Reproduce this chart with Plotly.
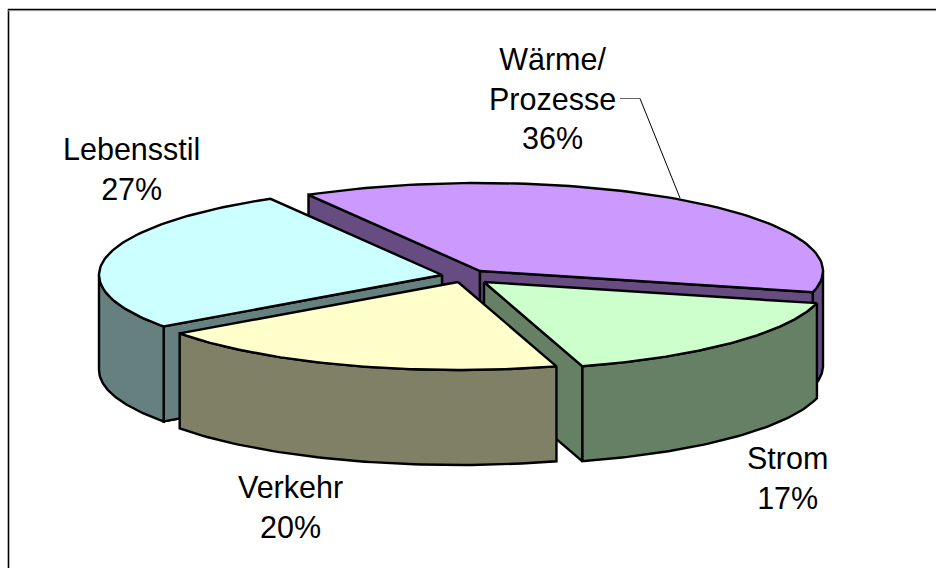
import numpy as np
import plotly.graph_objects as go

categories = ["Wärme/<br>Prozesse", "Strom", "Verkehr", "Lebensstil"]
percent_labels = [36, 17, 20, 27]
# visible size of each slice (percent of the disc)
slice_shares = [37.2, 16.5, 19.7, 26.6]

# Styling and projection of the tilted, exploded disc
top_colors = ["#CC99FF", "#CCFFCC", "#FFFFCC", "#CCFFFF"]
side_colors = ["#664C80", "#668066", "#808066", "#668080"]
hubs = [(480, 271), (484, 282), (458, 282), (442, 275)]
START_DEG = 120
A, B, DEPTH = 343, 88, 95
LW = 2.4
W, H = 936, 568

label_pos = [(552, 98), (787, 478), (290, 507), (131, 169)]

fig = go.Figure()


def poly(xs, ys, fill):
    xs = list(xs) + [xs[0]]
    ys = list(ys) + [ys[0]]
    fig.add_trace(go.Scatter(x=xs, y=ys, mode="lines", fill="toself", fillcolor=fill,
                             line=dict(color="#000000", width=LW), hoverinfo="skip",
                             showlegend=False))


spans = []
a0 = START_DEG
for s in slice_shares:
    a1 = a0 - s / sum(slice_shares) * 360
    spans.append((a0, a1))
    a0 = a1


def rim(i, n=90):
    a0, a1 = spans[i]
    t = np.radians(np.linspace(a0, a1, n))
    cx, cy = hubs[i]
    return cx + A * np.cos(t), cy - B * np.sin(t)


def draw_outer(i, t_lo, t_hi):
    """Outer wall between two angles of the slice."""
    cx, cy = hubs[i]
    t = np.radians(np.linspace(t_lo, t_hi, 60))
    x = cx + A * np.cos(t)
    y = cy - B * np.sin(t)
    poly(np.r_[x, x[::-1]], np.r_[y, y[::-1] + DEPTH], side_colors[i])


def draw_cut(i, angle):
    """Radial wall from hub to rim at the given angle."""
    cx, cy = hubs[i]
    t = np.radians(angle)
    x = cx + A * np.cos(t)
    y = cy - B * np.sin(t)
    poly([cx, x, x, cx], [cy, y, y + DEPTH, cy + DEPTH], side_colors[i])


def draw_top(i):
    cx, cy = hubs[i]
    x, y = rim(i)
    poly(np.r_[cx, x], np.r_[cy, y], top_colors[i])


# back to front: purple, cyan, green, yellow
draw_cut(0, spans[0][0])
draw_cut(0, spans[0][1])
draw_outer(0, 0, spans[0][1])
draw_top(0)

draw_cut(3, spans[3][0])
draw_cut(3, spans[2][1])
draw_outer(3, spans[2][1], -180)
draw_top(3)

draw_cut(1, spans[1][1])
draw_outer(1, spans[1][0], spans[1][1])
draw_top(1)

draw_outer(2, spans[2][0], spans[2][1])
draw_top(2)

# leader line of the first label
fig.add_trace(go.Scatter(x=[620, 640], y=[98.5, 98.5], mode="lines",
                         line=dict(color="#666666", width=1), hoverinfo="skip",
                         showlegend=False))
fig.add_trace(go.Scatter(x=[640, 680], y=[98.5, 198], mode="lines",
                         line=dict(color="#000000", width=1), hoverinfo="skip",
                         showlegend=False))

for name, s, (lx, ly) in zip(categories, percent_labels, label_pos):
    fig.add_annotation(x=lx, y=ly, xref="x", yref="y", text=f"{name}<br>{s}%",
                       showarrow=False, align="center", xanchor="center", yanchor="middle",
                       font=dict(family="Liberation Sans", size=30.5, color="#000000"))

# chart frame: only the left and top edges lie inside the picture
fig.add_shape(type="line", x0=8.5, y0=9, x1=8.5, y1=H, xref="x", yref="y",
              line=dict(color="#000000", width=1.6), layer="above")
fig.add_shape(type="line", x0=8, y0=10.7, x1=W, y1=10.7, xref="x", yref="y",
              line=dict(color="#BBBBBB", width=1), layer="above")
fig.add_shape(type="line", x0=8, y0=9.5, x1=W, y1=9.5, xref="x", yref="y",
              line=dict(color="#000000", width=1.6), layer="above")

fig.update_layout(width=W, height=H, margin=dict(l=0, r=0, t=0, b=0),
                  paper_bgcolor="#FFFFFF", plot_bgcolor="#FFFFFF", showlegend=False,
                  xaxis=dict(range=[0, W], visible=False, fixedrange=True),
                  yaxis=dict(range=[H, 0], visible=False, fixedrange=True))

fig.write_html("out.html", config={"displayModeBar": False},
               post_script="document.body.style.margin='0';document.body.style.overflow='hidden';")
